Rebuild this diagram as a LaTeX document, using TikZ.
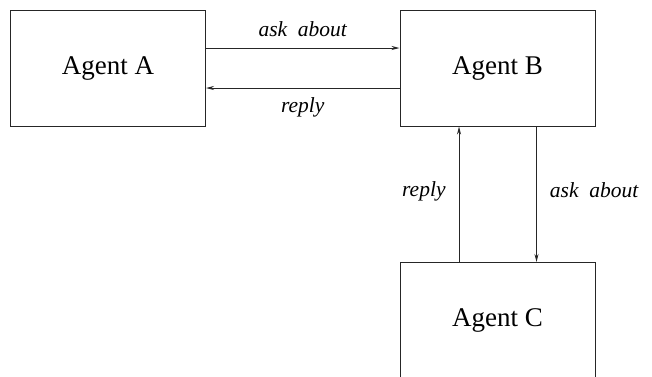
\documentclass[tikz,border=0pt]{standalone}
\usepackage{fontspec}
\setmainfont{Liberation Serif}
\usetikzlibrary{arrows.meta}
\begin{document}
\begin{tikzpicture}[x=1pt,y=1pt,
  agent/.style={draw=black!85,line width=1pt,minimum width=195pt,minimum height=116pt,inner sep=0pt,font=\fontsize{27}{32}\selectfont},
  arr/.style={draw=black!85,line width=0.9pt,-{Stealth[length=8pt,width=4pt]}},
  lbl/.style={font=\fontsize{21.5}{26}\selectfont\itshape,inner sep=0pt}]
\useasboundingbox (0,0) rectangle (652,-376);
\clip (0,0) rectangle (652,-376);
\node[agent] (A) at (108,-68) {\raisebox{-3pt}{Agent A}};
\node[agent] (B) at (497.5,-68) {\raisebox{-3pt}{Agent B}};
\node[agent] (C) at (497.5,-320.5) {\raisebox{-2pt}{Agent C}};
\draw[arr] ([yshift=20pt]A.east) -- node[lbl,above=11pt] (l1) {ask\ \ about} ([yshift=20pt]B.west);
\draw[arr] ([yshift=-20pt]B.west) -- node[lbl,below=9pt] (l2) {reply} ([yshift=-20pt]A.east);
\draw[arr] ([xshift=-38.5pt]C.north) -- node[lbl,left=13pt,yshift=3pt] (l3) {reply} ([xshift=-38.5pt]B.south);
\draw[arr] ([xshift=39pt]B.south) -- node[lbl,right=13pt,yshift=4pt] (l4) {ask\ \ about} ([xshift=39pt]C.north);
\end{tikzpicture}
\end{document}
